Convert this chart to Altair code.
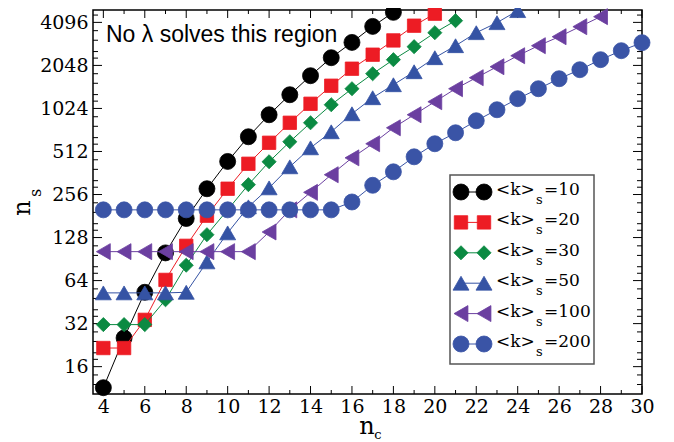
import altair as alt
import pandas as pd

# ---- data ----
labels = ["10", "20", "30", "50", "100", "200"]
colors = ["#000000", "#ED1C24", "#0B8A42", "#3553A4", "#6B3FA0", "#3A54A6"]
shapes = ["circle", "square", "diamond", "triangle-up", "triangle-left", "circle"]
sizes = [256, 180, 200, 256, 256, 256]

nc_10 = list(range(4, 19))
ns_10 = [11.4, 25.4, 53, 100, 174, 281, 436, 649, 925, 1277, 1735, 2319, 2967, 3840, 4814]
nc_20 = list(range(4, 21))
ns_20 = [21.6, 21.6, 34, 64.7, 112, 182, 281, 420, 589, 813, 1104, 1476, 1942, 2434,
         3063, 3883, 4712]
nc_30 = list(range(4, 22))
ns_30 = [31.5, 31.5, 31.5, 47, 82, 134, 200, 300, 434, 599, 813, 1087, 1407, 1791, 2246,
         2769, 3469, 4210]
nc_50 = list(range(4, 25))
ns_50 = [52.5, 52.5, 52.5, 52.5, 53, 86.5, 138, 210, 285, 400, 543, 703, 940, 1217, 1500,
         1850, 2319, 2813, 3469, 4076, 4950]
nc_100 = list(range(4, 29))
ns_100 = [102, 102, 102, 102, 102, 102, 102, 102, 140, 200, 265, 352, 462, 580, 750, 925,
          1141, 1407, 1680, 2005, 2394, 2813, 3251, 3821, 4491]
nc_200 = list(range(4, 31))
ns_200 = [200, 200, 200, 200, 200, 200, 200, 200, 200, 200, 200, 200, 227, 297, 369, 470,
          580, 692, 840, 1003, 1198, 1407, 1653, 1911, 2246, 2596, 2953]

series_nc = [nc_10, nc_20, nc_30, nc_50, nc_100, nc_200]
series_ns = [ns_10, ns_20, ns_30, ns_50, ns_100, ns_200]

x_major = [4, 6, 8, 10, 12, 14, 16, 18, 20, 22, 24, 26, 28, 30]
x_minor = [5, 7, 9, 11, 13, 15, 17, 19, 21, 23, 25, 27, 29]
y_major = [16, 32, 64, 128, 256, 512, 1024, 2048, 4096]
y_minor_factors = [1.125, 1.25, 1.5, 1.75]

# ---- layout ----
W, H = 549, 384
YMIN, YMAX = 10.3, 5000
SERIF = "DejaVu Serif"
SANS = "Liberation Sans"

xs = alt.Scale(domain=[3.5, 30], nice=False, zero=False)
ys = alt.Scale(type="log", base=2, domain=[YMIN, YMAX], nice=False)
xaxis = alt.Axis(values=x_major, ticks=False, domain=False, grid=False, title=None,
                 labelFont=SERIF, labelFontSize=19, labelColor="black", labelPadding=3,
                 labelFlush=False)
yaxis = alt.Axis(values=y_major, ticks=False, domain=False, grid=False, title=None,
                 labelFont=SERIF, labelFontSize=19, labelColor="black", labelPadding=5,
                 format="d", labelFlush=False)

y_minor = [m * f for m in [8] + y_major for f in y_minor_factors if YMIN < m * f < YMAX]

layers = []

def xticks(vals, length):
    df = pd.DataFrame({"v": vals})
    b = alt.Chart(df).mark_rule(color="black", strokeWidth=1)
    bottom = b.encode(x=alt.X("v:Q", scale=xs, axis=xaxis), y=alt.value(H), y2=alt.value(H - length))
    top = b.encode(x=alt.X("v:Q", scale=xs, axis=xaxis), y=alt.value(0), y2=alt.value(length))
    return [bottom, top]

def yticks(vals, length):
    df = pd.DataFrame({"v": vals})
    b = alt.Chart(df).mark_rule(color="black", strokeWidth=1)
    left = b.encode(y=alt.Y("v:Q", scale=ys, axis=yaxis), x=alt.value(0), x2=alt.value(length))
    right = b.encode(y=alt.Y("v:Q", scale=ys, axis=yaxis), x=alt.value(W), x2=alt.value(W - length))
    return [left, right]

layers += xticks(x_major, 8) + xticks(x_minor, 4)
layers += yticks(y_major, 9) + yticks(y_minor, 5)

for lab, col, shp, sz, nc, ns in zip(labels, colors, shapes, sizes, series_nc, series_ns):
    df = pd.DataFrame({"nc": nc, "ns": ns})
    enc = dict(x=alt.X("nc:Q", scale=xs, axis=xaxis), y=alt.Y("ns:Q", scale=ys, axis=yaxis))
    layers.append(alt.Chart(df).mark_line(color=col, strokeWidth=1, clip=False).encode(**enc))
    layers.append(alt.Chart(df).mark_point(shape=shp, size=sz, filled=True, color=col,
                                           opacity=1, strokeWidth=0.8, stroke=col,
                                           clip=False).encode(**enc))

one = pd.DataFrame({"a": [0]})

# annotation
layers.append(alt.Chart(one).mark_text(text="No \u03bb solves this region", font=SANS,
                                       fontSize=23, align="left", baseline="middle",
                                       color="black").encode(x=alt.value(13), y=alt.value(25)))

# legend
LX0, LX1, LY0, LY1 = 357, 501, 165, 354
layers.append(alt.Chart(one).mark_rect(fill="white", stroke="#555555", strokeWidth=1.5).encode(
    x=alt.value(LX0), x2=alt.value(LX1), y=alt.value(LY0), y2=alt.value(LY1)))
for i, (lab, col, shp, sz) in enumerate(zip(labels, colors, shapes, sizes)):
    yy = 182 + 30.4 * i
    layers.append(alt.Chart(one).mark_rule(color=col, strokeWidth=1).encode(
        x=alt.value(368), x2=alt.value(391), y=alt.value(yy)))
    for sx in (368, 391):
        layers.append(alt.Chart(one).mark_point(shape=shp, size=sz, filled=True, color=col,
                                                opacity=1, stroke=col, strokeWidth=0.8).encode(
            x=alt.value(sx), y=alt.value(yy)))
    layers.append(alt.Chart(one).mark_text(text="<k>", font=SERIF, fontSize=17, align="left",
                                           baseline="middle", color="black").encode(
        x=alt.value(403), y=alt.value(yy - 2)))
    layers.append(alt.Chart(one).mark_text(text="s", font=SERIF, fontSize=13, align="left",
                                           baseline="middle", color="black").encode(
        x=alt.value(443), y=alt.value(yy + 8)))
    layers.append(alt.Chart(one).mark_text(text="=" + lab, font=SERIF, fontSize=17, align="left",
                                           baseline="middle", color="black").encode(
        x=alt.value(451), y=alt.value(yy - 2)))

# axis titles with subscripts
layers.append(alt.Chart(one).mark_text(text="n", font=SERIF, fontSize=24, angle=270,
                                       align="center", baseline="middle", color="black").encode(
    x=alt.value(-70), y=alt.value(198)))
layers.append(alt.Chart(one).mark_text(text="s", font=SERIF, fontSize=16, angle=270,
                                       align="center", baseline="middle", color="black").encode(
    x=alt.value(-57), y=alt.value(183)))
layers.append(alt.Chart(one).mark_text(text="n", font=SERIF, fontSize=24, align="center",
                                       baseline="middle", color="black").encode(
    x=alt.value(274), y=alt.value(417)))
layers.append(alt.Chart(one).mark_text(text="c", font=SERIF, fontSize=13, align="center",
                                       baseline="middle", color="black").encode(
    x=alt.value(285), y=alt.value(425)))

chart = alt.layer(*layers).properties(
    width=W, height=H,
    autosize=alt.AutoSizeParams(type="none"),
    padding={"left": 85, "top": 2, "right": 24, "bottom": 48},
    background="white",
).configure_view(stroke="black", strokeWidth=1.5)

chart.save("out.html", embed_options={"renderer": "svg", "actions": False})
